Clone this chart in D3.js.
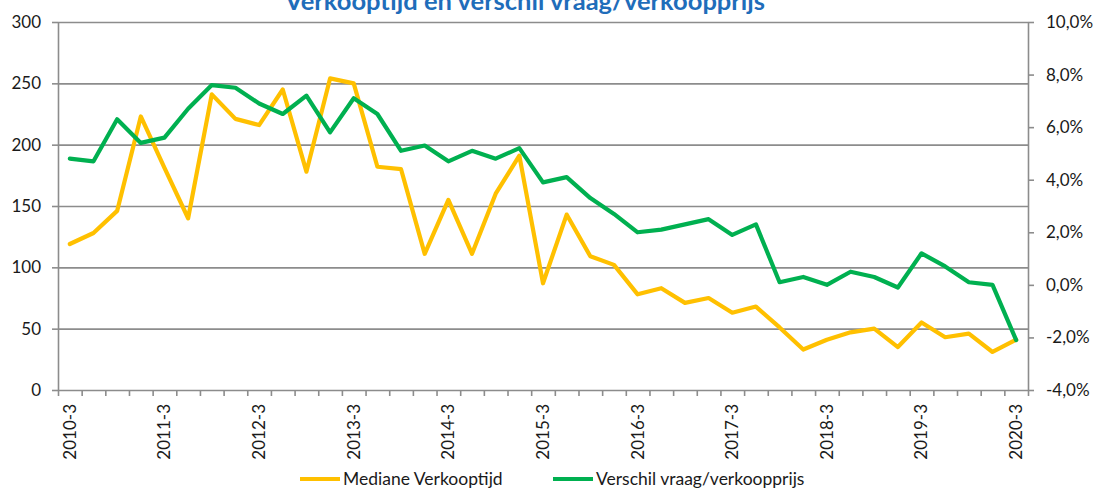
<!DOCTYPE html>
<html>
<head>
<meta charset="utf-8">
<script src="https://cdn.jsdelivr.net/npm/d3@7/dist/d3.min.js"></script>
<style>
  html, body { margin: 0; padding: 0; background: #fff; }
  svg { display: block; }
  text { font-family: Lato, "Open Sans", sans-serif; }
</style>
</head>
<body>
<svg id="chart" width="1096" height="491"></svg>
<script>
const categories = [
  "2010-3","2010-4","2011-1","2011-2","2011-3","2011-4","2012-1","2012-2","2012-3","2012-4",
  "2013-1","2013-2","2013-3","2013-4","2014-1","2014-2","2014-3","2014-4","2015-1","2015-2",
  "2015-3","2015-4","2016-1","2016-2","2016-3","2016-4","2017-1","2017-2","2017-3","2017-4",
  "2018-1","2018-2","2018-3","2018-4","2019-1","2019-2","2019-3","2019-4","2020-1","2020-2","2020-3"
];
const labelCategories = ["2010-3","2011-3","2012-3","2013-3","2014-3","2015-3","2016-3","2017-3","2018-3","2019-3","2020-3"];
const verkooptijd = [
  119,128,146,223,181,140,241,221,216,245,
  178,254,250,182,180,111,155,111,160,191,
  87,143,109,102,78,83,71,75,63,68,
  51,33,41,47,50,35,55,43,46,31,41
];
const verschil = [
  4.8,4.7,6.3,5.4,5.6,6.7,7.6,7.5,6.9,6.5,
  7.2,5.8,7.1,6.5,5.1,5.3,4.7,5.1,4.8,5.2,
  3.9,4.1,3.3,2.7,2.0,2.1,2.3,2.5,1.9,2.3,
  0.1,0.3,0.0,0.5,0.3,-0.1,1.2,0.7,0.1,0.0,-2.1
];
const leftTicks = [0,50,100,150,200,250,300];
const rightTicks = [-4,-2,0,2,4,6,8,10];
const seriesNames = ["Mediane Verkooptijd","Verschil vraag/verkoopprijs"];
const title = "Verkooptijd en verschil vraag/verkoopprijs";

const W = 1096, H = 491;
const m = {left: 58, right: 1028, top: 22, bottom: 390};
const orange = "#FFC000", green = "#00B050", gridCol = "#8c8c8c", textCol = "#1a1a1a";

const svg = d3.select("#chart");

const x = d3.scaleBand().domain(categories).range([m.left, m.right]).padding(0);
const xIdx = d3.scaleLinear().domain([0, categories.length]).range([m.left, m.right]);
const yL = d3.scaleLinear().domain([0, 300]).range([m.bottom, m.top]);
const yR = d3.scaleLinear().domain([-4, 10]).range([m.bottom, m.top]);

// gridlines
const grid = svg.append("g").attr("transform", `translate(${m.left},0)`)
  .call(d3.axisLeft(yL).tickValues(leftTicks.filter(d => d > 0)).tickSize(-(m.right - m.left)).tickFormat(""));
grid.select(".domain").remove();
grid.selectAll("line").attr("stroke", gridCol).attr("stroke-width", 1.6);

// left axis
const la = svg.append("g").attr("transform", `translate(${m.left},0)`)
  .call(d3.axisLeft(yL).tickValues(leftTicks).tickSize(6).tickPadding(11).tickSizeOuter(0));
la.select(".domain").attr("stroke", gridCol).attr("stroke-width", 1.6);
la.selectAll("line").attr("stroke", gridCol).attr("stroke-width", 1.6);
la.selectAll("text").attr("font-size", 17).attr("fill", textCol).style("font-family", "Lato");

// right axis
const ra = svg.append("g").attr("transform", `translate(${m.right},0)`)
  .call(d3.axisRight(yR).tickValues(rightTicks).tickSize(6).tickPadding(12).tickSizeOuter(0)
    .tickFormat(d => d.toFixed(1).replace(".", ",") + "%"));
ra.select(".domain").attr("stroke", gridCol).attr("stroke-width", 1.6);
ra.selectAll("line").attr("stroke", gridCol).attr("stroke-width", 1.6);
ra.selectAll("text").attr("font-size", 17).attr("fill", textCol).style("font-family", "Lato");

// bottom axis: ticks between categories
const bt = svg.append("g").attr("transform", `translate(0,${m.bottom})`)
  .call(d3.axisBottom(xIdx).tickValues(d3.range(0, categories.length + 1)).tickSize(6).tickFormat("").tickSizeOuter(0));
bt.select(".domain").attr("stroke", gridCol).attr("stroke-width", 1.6);
bt.selectAll("line").attr("stroke", gridCol).attr("stroke-width", 1.6);

// bottom labels
const bl = svg.append("g").attr("transform", `translate(0,${m.bottom})`)
  .call(d3.axisBottom(x).tickValues(labelCategories).tickSize(0).tickPadding(0));
bl.select(".domain").remove();
bl.selectAll("text")
  .attr("font-size", 17).attr("fill", textCol).style("font-family", "Lato")
  .attr("transform", "rotate(-90)")
  .attr("text-anchor", "end")
  .attr("x", -14).attr("y", 0).attr("dy", "0.35em");

// lines
const lineL = d3.line().x((d, i) => x(categories[i]) + x.bandwidth() / 2).y(d => yL(d));
const lineR = d3.line().x((d, i) => x(categories[i]) + x.bandwidth() / 2).y(d => yR(d));

svg.append("path").datum(verkooptijd).attr("d", lineL)
  .attr("fill", "none").attr("stroke", orange).attr("stroke-width", 4.2)
  .attr("stroke-linejoin", "round").attr("stroke-linecap", "round");
svg.append("path").datum(verschil).attr("d", lineR)
  .attr("fill", "none").attr("stroke", green).attr("stroke-width", 4.2)
  .attr("stroke-linejoin", "round").attr("stroke-linecap", "round");

// title (partly cut off at the top, as in the reference)
svg.append("text").attr("x", 525).attr("y", 10).attr("text-anchor", "middle")
  .attr("font-size", 25.5).attr("font-weight", "bold").attr("fill", "#1F6DBA")
  .style("font-family", "Lato").text(title);

// legend
const legend = svg.append("g");
const legItems = [
  {name: seriesNames[0], color: orange, x: 300},
  {name: seriesNames[1], color: green, x: 553}
];
legItems.forEach(it => {
  legend.append("line").attr("x1", it.x).attr("x2", it.x + 40).attr("y1", 479).attr("y2", 479)
    .attr("stroke", it.color).attr("stroke-width", 4.2);
  legend.append("text").attr("x", it.x + 43).attr("y", 479).attr("dy", "0.35em")
    .attr("font-size", 17.5).attr("fill", textCol).style("font-family", "Lato").text(it.name);
});
</script>
</body>
</html>
